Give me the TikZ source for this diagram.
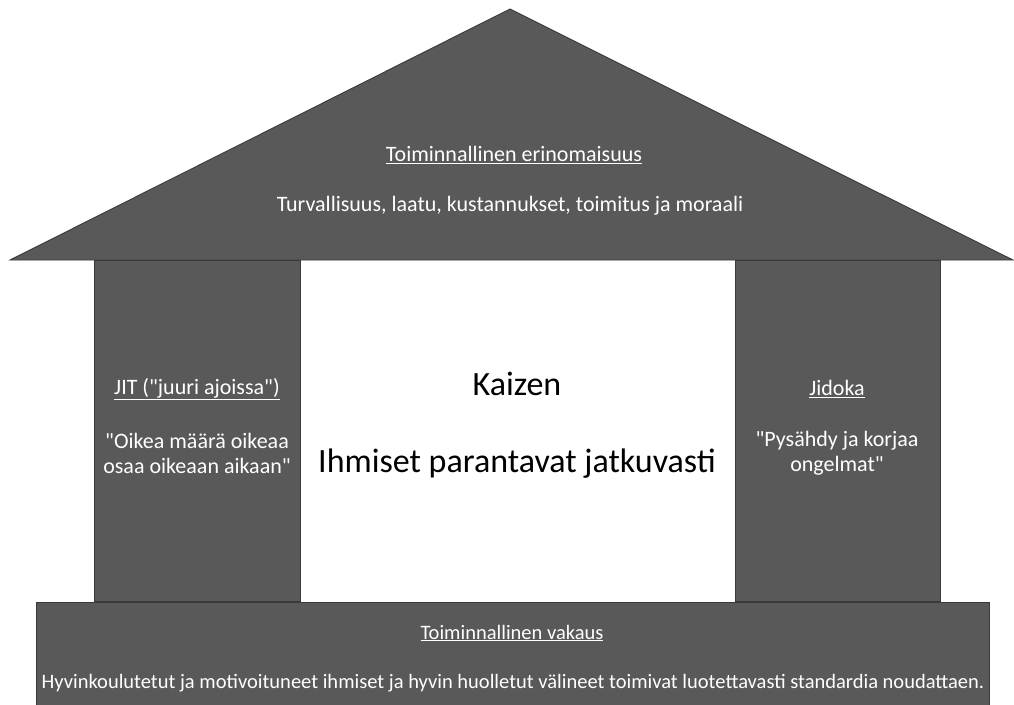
\documentclass[tikz,border=0pt]{standalone}
\usepackage{fontspec}
\setmainfont{Carlito}[Ligatures=TeXOff]
\definecolor{slab}{HTML}{595959}
\definecolor{edge}{HTML}{3A3A3A}
\tikzset{
  part/.style={fill=slab, draw=edge, line width=0.9pt},
  light/.style={text=white, align=center, inner sep=0pt, font=\fontsize{22}{25}\selectfont},
  dark/.style={text=black, align=center, inner sep=0pt, font=\fontsize{34}{40}\selectfont}
}
\newcommand{\uline}[1]{\underline{#1}}
\begin{document}
\begin{tikzpicture}[x=1pt,y=-1pt]
\useasboundingbox (0,0) rectangle (1014,704);
% roof
\draw[part] (10,260) -- (510,9) -- (1013,260) -- cycle;
% pillars
\node[part, minimum width=206pt, minimum height=341pt, inner sep=0pt] (jit) at (197,430.5) {};
\node[part, minimum width=205pt, minimum height=341pt, inner sep=0pt] (jidoka) at (837.5,430.5) {};
% foundation
\node[part, minimum width=953pt, minimum height=106pt, inner sep=0pt] (base) at (512.5,655) {};
% roof texts
\node[light] (rooftitle) at (514,155) {\uline{Toiminnallinen erinomaisuus}};
\node[light] (rooftext) at (510,206) {Turvallisuus, laatu, kustannukset, toimitus ja moraali};
% centre
\node[dark] (kaizen) at (517,384) {Kaizen};
\node[dark] (kaizentext) at (517,464) {Ihmiset parantavat jatkuvasti};
% left pillar
\node[light] (jittitle) at (197,389) {\uline{JIT ("juuri ajoissa")}};
\node[light] (jittext) at (197,453) {"Oikea määrä oikeaa\\osaa oikeaan aikaan"};
% right pillar
\node[light] (jidokatitle) at (837,389) {\uline{Jidoka}};
\node[light] (jidokatext) at (837,453) {"Pysähdy ja korjaa\\ongelmat"};
% foundation texts
\node[light, font=\fontsize{20.5}{24}\selectfont] (basetitle) at (512,633) {\uline{Toiminnallinen vakaus}};
\node[light, font=\fontsize{20.5}{24}\selectfont] (basetext) at (513,683) {Hyvinkoulutetut ja motivoituneet ihmiset ja hyvin huolletut välineet toimivat luotettavasti standardia noudattaen.};
\end{tikzpicture}
\end{document}
